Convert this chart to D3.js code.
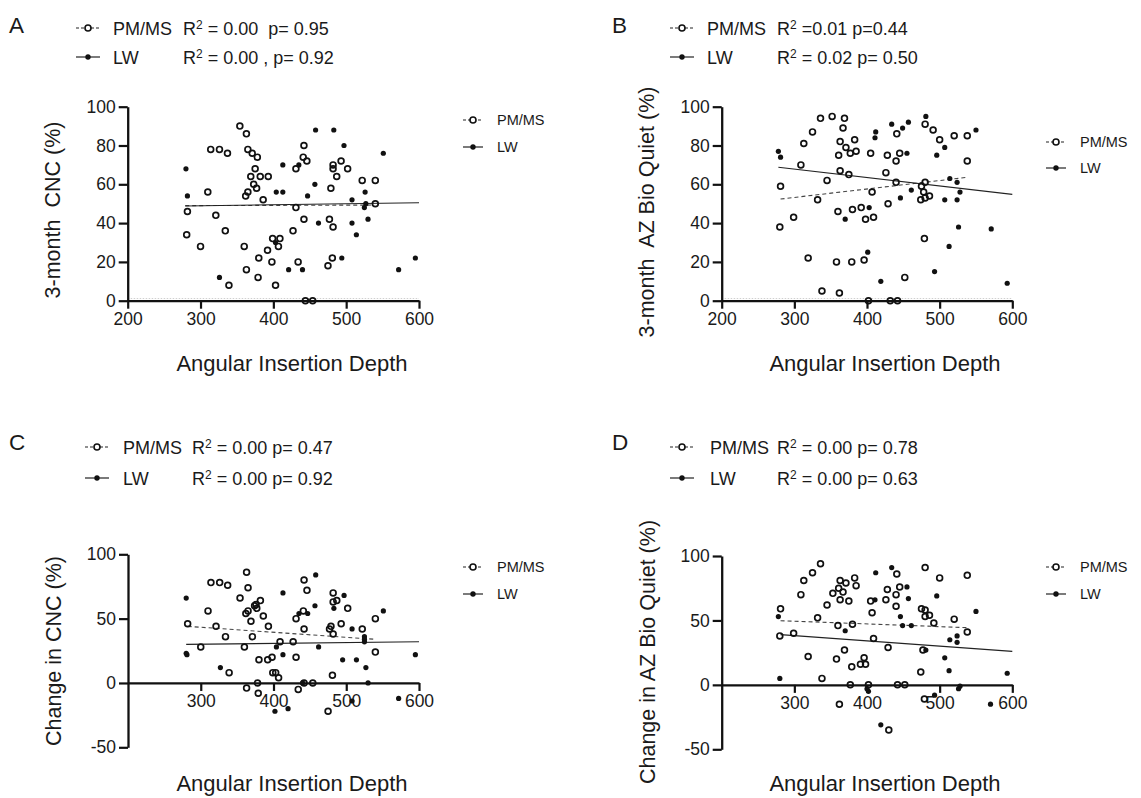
<!DOCTYPE html>
<html>
<head>
<meta charset="utf-8">
<script src="https://cdnjs.cloudflare.com/ajax/libs/d3/7.8.5/d3.min.js"></script>
<style>
body { margin: 0; background: #fff; }
svg { display: block; }
text { fill: #1a1a1a; white-space: pre; }
</style>
</head>
<body>
<script>
var width = 1141;
var height = 798;
var font = "'Liberation Sans', Arial, sans-serif";

// A: 3-month CNC (PM/MS = open, LW = filled)
var aPM = [[354,90],[363,86],[314,78],[326,78],[337,76],[365,78],[371,76],[378,74],[375,68],[369,64],
  [382,64],[393,64],[373,60],[377,58],[365,56],[362,54],[310,56],[386,52],[282,46],[321,44],[281,34],
  [334,36],[300,28],[360,28],[399,32],[409,32],[407,28],[392,26],[380,22],[398,20],[363,16],[379,12],
  [339,8],[403,8],[431,48],[442,42],[427,36],[434,20],[442,80],[441,74],[446,72],[431,68],[444,0],[454,0],
  [482,70],[482,68],[493,72],[502,68],[487,64],[479,58],[522,62],[540,62],[540,50],[477,42],[482,38],
  [481,22],[475,18]];
var aLW = [[280,68],[282,54],[326,12],[404,56],[413,56],[413,70],[435,70],[458,88],[457,60],[447,54],
  [462,40],[421,16],[440,16],[403,30],[483,88],[497,80],[551,76],[526,56],[508,52],[527,50],[525,48],
  [530,42],[508,40],[514,34],[494,22],[595,22],[572,16]];
var aFitPM = [[279,49],[537,49.3]];
var aFitLW = [[279,48.8],[600,50.5]];
var aStats = [' = 0.00  p= 0.95', ' = 0.00 , p= 0.92'];

// B: 3-month AZ Bio Quiet
var bPM = [[336,94],[352,95],[369,94],[367,89],[325,87],[313,81],[363,82],[371,79],[383,83],[377,76],
  [385,77],[361,75],[405,76],[428,75],[309,70],[363,67],[375,65],[426,66],[345,62],[281,59],[407,56],
  [332,52],[429,50],[360,46],[380,47],[392,48],[299,43],[409,43],[398,42],[280,38],[319,22],[358,20],
  [379,20],[396,21],[338,5],[362,4],[402,0],[441,86],[480,91],[491,88],[500,83],[520,85],[538,85],
  [538,72],[445,76],[440,72],[440,61],[480,61],[475,59],[478,56],[480,53],[474,52],[486,54],[479,32],
  [452,12],[432,0],[442,0]];
var bLW = [[278,77],[281,74],[412,87],[411,84],[403,48],[370,42],[401,25],[419,10],[434,91],[449,89],
  [457,92],[481,95],[455,76],[496,75],[507,79],[550,88],[514,63],[524,61],[528,56],[461,57],[446,53],
  [507,52],[524,52],[526,38],[571,37],[513,28],[493,15],[593,9]];
var bFitPM = [[281,52.4],[538,63.6]];
var bFitLW = [[278,68.8],[600,54.8]];
var bStats = [' =0.01 p=0.44', ' = 0.02 p= 0.50'];

// C: change in CNC
var cPM = [[363,86],[314,78],[326,78],[337,76],[365,74],[354,66],[382,64],[376,61],[374,60],[377,58],
  [365,56],[362,54],[310,56],[386,52],[369,48],[393,44],[282,46],[321,44],[334,36],[371,36],[300,28],
  [360,28],[409,32],[427,32],[380,18],[392,18],[398,20],[399,8],[403,8],[407,4],[339,8],[431,20],
  [378,0],[363,-4],[379,-8],[434,-5],[442,0],[454,0],[442,80],[446,72],[441,56],[431,50],[442,42],
  [482,70],[482,63],[487,64],[502,58],[493,46],[477,42],[479,44],[482,38],[522,42],[540,50],[540,24],
  [481,6],[475,-22]];
var cLW = [[280,66],[281,22],[280,23],[327,12],[413,70],[458,84],[435,54],[447,54],[457,60],[404,28],
  [413,22],[462,28],[440,0],[402,-22],[420,-20],[497,68],[483,58],[551,56],[508,42],[525,36],[525,34],
  [525,32],[595,22],[495,18],[514,18],[527,12],[530,0],[572,-12],[508,-14]];
var cFitPM = [[282,44],[538,34]];
var cFitLW = [[280,30],[600,32]];
var cStats = [' = 0.00 p= 0.47', ' = 0.00 p= 0.92'];

// D: change in AZ Bio Quiet
var dPM = [[336,94],[325,87],[313,81],[309,70],[363,81],[371,79],[383,83],[385,77],[361,75],[367,72],
  [353,71],[363,66],[375,65],[345,62],[405,65],[426,66],[428,74],[407,56],[281,59],[332,52],[360,46],
  [380,47],[280,38],[299,40],[409,36],[429,29],[369,27],[319,22],[358,20],[396,21],[379,14],[391,16],
  [398,16],[338,5],[377,0],[402,0],[362,-15],[430,-35],[441,86],[480,91],[500,83],[538,85],[445,76],
  [440,70],[440,61],[475,59],[480,58],[486,54],[480,53],[492,48],[520,51],[538,41],[477,27],[474,10],
  [442,0],[452,0],[479,-11]];
var dLW = [[278,53],[280,5],[370,42],[412,87],[411,66],[402,-5],[400,-3],[419,-31],[434,91],[455,76],
  [457,67],[496,69],[550,57],[446,53],[449,46],[461,46],[514,35],[524,38],[524,33],[481,27],[507,21],
  [513,11],[593,9],[528,-1],[526,-3],[493,-8],[570,-15]];
var dFitPM = [[281,49.8],[538,44.4]];
var dFitLW = [[281,39],[600,26]];
var dStats = [' = 0.00 p= 0.78', ' = 0.00 p= 0.63'];

var xTicksTop = [200, 300, 400, 500, 600];
var xTicksBottom = [300, 400, 500, 600];
var yTicksTop = [0, 20, 40, 60, 80, 100];
var yTicksBottom = [-50, 0, 50, 100];
var seriesNames = ['PM/MS', 'LW'];

var svg = d3.select('body').append('svg')
            .attr('width', width)
            .attr('height', height)
            .style('font-family', font);

var marker = function(g, cx, cy, len, open, dashed) {
  g.append('line')
   .attr('x1', cx - len / 2).attr('x2', cx + len / 2)
   .attr('y1', cy).attr('y2', cy)
   .attr('stroke', '#222').attr('stroke-width', 1.2)
   .attr('stroke-dasharray', dashed ? '3,2' : null);
  g.append('circle')
   .attr('cx', cx).attr('cy', cy)
   .attr('r', open ? 3 : 2.7)
   .attr('fill', open ? '#fff' : '#111')
   .attr('stroke', '#111').attr('stroke-width', open ? 1.6 : 0);
};

// plain hyphen for negatives, as in the original
var plain = function(d) { return String(d); };

var drawPanel = function(p) {
  var x = d3.scaleLinear().domain([200, 600]).range([p.left, p.right]);
  var y = d3.scaleLinear().domain([p.yMin, 100]).range([p.bottom, p.top]);
  var g = svg.append('g');

  if (p.yMin === 0) {
    g.append('line')
     .attr('x1', x(200)).attr('x2', x(600))
     .attr('y1', y(0) - 2.2).attr('y2', y(0) - 2.2)
     .attr('stroke', '#c4c4c4').attr('stroke-width', 0.8)
     .attr('stroke-dasharray', '1.5,1.5');
  }

  var yg = g.append('g')
            .attr('transform', 'translate(' + p.left + ',0)')
            .call(d3.axisLeft(y).tickValues(p.yTicks).tickFormat(plain)
                    .tickSize(9).tickPadding(3).tickSizeOuter(0));
  var xg = g.append('g')
            .attr('transform', 'translate(0,' + y(0) + ')')
            .call(d3.axisBottom(x).tickValues(p.xTicks).tickFormat(plain)
                    .tickSize(8).tickPadding(4).tickSizeOuter(0));
  [yg, xg].forEach(function(a) {
    a.attr('font-family', font).attr('font-size', 17.5);
    a.select('.domain').attr('stroke', '#111').attr('stroke-width', 2.3);
    a.selectAll('.tick line').attr('stroke', '#111').attr('stroke-width', 2.2);
    a.selectAll('.tick text').attr('fill', '#222');
  });

  var line = d3.line()
    .x(function(d) { return x(d[0]); })
    .y(function(d) { return y(d[1]); });

  g.append('path').datum(p.fitPM).attr('d', line)
   .attr('fill', 'none').attr('stroke', '#444').attr('stroke-width', 1.1)
   .attr('stroke-dasharray', '4,3');
  g.append('path').datum(p.fitLW).attr('d', line)
   .attr('fill', 'none').attr('stroke', '#222').attr('stroke-width', 1.1);

  g.selectAll('.lw').data(p.lw).enter().append('circle')
   .attr('cx', function(d) { return x(d[0]); })
   .attr('cy', function(d) { return y(d[1]); })
   .attr('r', 2.6).attr('fill', '#111');
  g.selectAll('.pm').data(p.pm).enter().append('circle')
   .attr('cx', function(d) { return x(d[0]); })
   .attr('cy', function(d) { return y(d[1]); })
   .attr('r', 2.9).attr('fill', 'none')
   .attr('stroke', '#111').attr('stroke-width', 1.7);

  // header with fit statistics
  g.append('text').attr('x', p.hx).attr('y', p.hy)
   .style('font-size', '22.5px').text(p.letter);
  p.hRows.forEach(function(cy, i) {
    marker(g, p.mx, cy, 24, i === 0, i === 0);
    g.append('text').attr('x', p.tx).attr('y', cy + 6.5)
     .style('font-size', '18px').text(seriesNames[i]);
    var s = g.append('text').attr('x', p.sx).attr('y', cy + 6.5).style('font-size', '18px');
    s.append('tspan').text('R');
    s.append('tspan').attr('dy', -6).style('font-size', '12px').text('2');
    s.append('tspan').attr('dy', 6).text(p.stats[i]);
  });

  // right legend
  p.lRows.forEach(function(cy, i) {
    marker(g, p.lx, cy, 20, i === 0, i === 0);
    g.append('text').attr('x', p.lx + 24).attr('y', cy + 5)
     .style('font-size', '14.5px').text(seriesNames[i]);
  });

  g.append('text')
   .attr('x', p.titleX).attr('y', p.titleY)
   .attr('text-anchor', 'middle')
   .style('font-size', '22px').text('Angular Insertion Depth');

  g.append('text')
   .attr('transform', 'translate(' + p.yLabelX + ',' + p.yLabelY + ') rotate(-90)')
   .attr('text-anchor', 'middle').attr('dy', '0.35em')
   .style('font-size', '21.5px').text(p.yLabel);
};

var panels = [
  {letter: 'A', pm: aPM, lw: aLW, fitPM: aFitPM, fitLW: aFitLW, stats: aStats,
   yLabel: '3-month  CNC (%)', yTicks: yTicksTop, xTicks: xTicksTop, yMin: 0,
   left: 127.7, right: 419, top: 106.7, bottom: 300.7,
   hx: 9, hy: 33, hRows: [28, 57], mx: 88, tx: 113, sx: 183,
   lx: 473, lRows: [120, 147], titleX: 292, titleY: 371, yLabelX: 52, yLabelY: 210},
  {letter: 'B', pm: bPM, lw: bLW, fitPM: bFitPM, fitLW: bFitLW, stats: bStats,
   yLabel: '3-month  AZ Bio Quiet (%)', yTicks: yTicksTop, xTicks: xTicksTop, yMin: 0,
   left: 721.7, right: 1012.3, top: 106.7, bottom: 300.7,
   hx: 612, hy: 33, hRows: [28, 57], mx: 682, tx: 707, sx: 777,
   lx: 1056, lRows: [142, 168], titleX: 885, titleY: 371, yLabelX: 646, yLabelY: 212},
  {letter: 'C', pm: cPM, lw: cLW, fitPM: cFitPM, fitLW: cFitLW, stats: cStats,
   yLabel: 'Change in CNC (%)', yTicks: yTicksBottom, xTicks: xTicksBottom, yMin: -50,
   left: 128, right: 419, top: 554.3, bottom: 747.3,
   hx: 9, hy: 450, hRows: [447, 478], mx: 97, tx: 123, sx: 192,
   lx: 473, lRows: [567, 594], titleX: 292, titleY: 791, yLabelX: 53, yLabelY: 651},
  {letter: 'D', pm: dPM, lw: dLW, fitPM: dFitPM, fitLW: dFitLW, stats: dStats,
   yLabel: 'Change in AZ Bio Quiet (%)', yTicks: yTicksBottom, xTicks: xTicksBottom, yMin: -50,
   left: 721.7, right: 1012.3, top: 556, bottom: 749.3,
   hx: 612, hy: 450, hRows: [447, 478], mx: 682, tx: 710, sx: 777,
   lx: 1056, lRows: [567, 594], titleX: 885, titleY: 791, yLabelX: 647, yLabelY: 652}
];

panels.forEach(drawPanel);
</script>
</body>
</html>
